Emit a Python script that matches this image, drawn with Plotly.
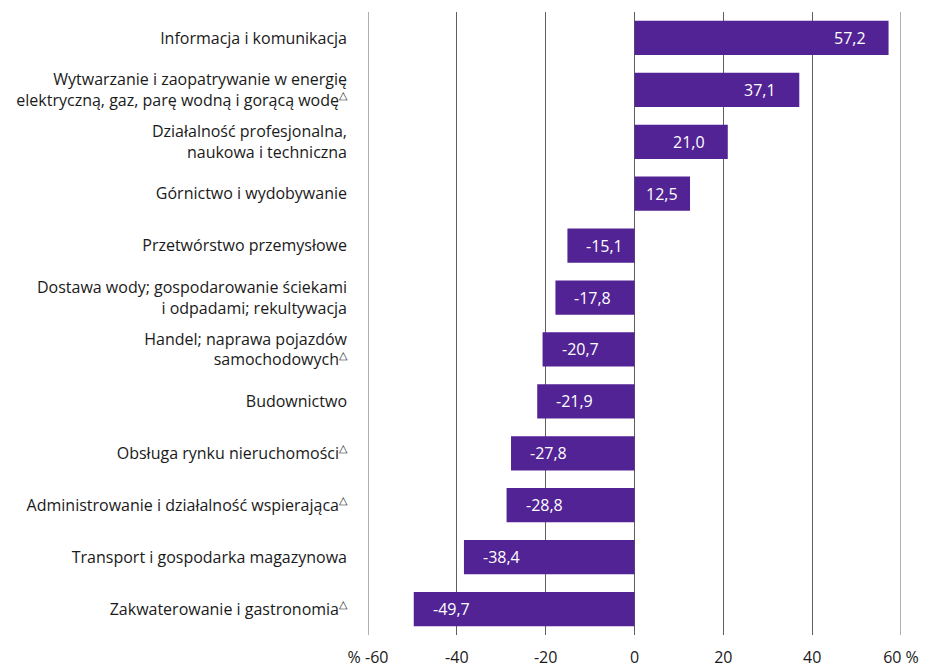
import plotly.graph_objects as go

categories = [
    "Informacja i komunikacja",
    "Wytwarzanie i zaopatrywanie w energię<br>elektryczną, gaz, parę wodną i gorącą wodę<sup>△</sup>",
    "Działalność profesjonalna,<br>naukowa i techniczna",
    "Górnictwo i wydobywanie",
    "Przetwórstwo przemysłowe",
    "Dostawa wody; gospodarowanie ściekami<br>i odpadami; rekultywacja",
    "Handel; naprawa pojazdów<br>samochodowych<sup>△</sup>",
    "Budownictwo",
    "Obsługa rynku nieruchomości<sup>△</sup>",
    "Administrowanie i działalność wspierająca<sup>△</sup>",
    "Transport i gospodarka magazynowa",
    "Zakwaterowanie i gastronomia<sup>△</sup>",
]
values = [57.2, 37.1, 21.0, 12.5, -15.1, -17.8, -20.7, -21.9, -27.8, -28.8, -38.4, -49.7]

tick_vals = [-60, -40, -20, 0, 20, 40, 60]
tick_text = ["% -60", "-40", "-20", "0", "20", "40", "60 %"]

BAR_COLOR = "#522394"
GRID_COLOR = "#5f5f5f"
FONT = "'Open Sans', 'Noto Sans', sans-serif"

fig = go.Figure()
fig.add_trace(go.Bar(
    x=values,
    y=categories,
    orientation="h",
    marker=dict(color=BAR_COLOR, line=dict(width=0)),
    hoverinfo="skip",
))

annotations = []
for cat, v in zip(categories, values):
    label = f"{v:.1f}".replace(".", ",")
    if abs(v) < 15:
        # short bar: centre the label inside it
        ann = dict(x=v / 2, xanchor="center", xshift=0)
    elif v > 0:
        ann = dict(x=v, xanchor="right", xshift=-21)
    else:
        ann = dict(x=v, xanchor="left", xshift=17)
    ann.update(
        y=cat, xref="x", yref="y",
        text=label, showarrow=False,
        font=dict(color="white", size=16, family=FONT),
    )
    annotations.append(ann)

# gridlines at the range edges (plotly skips them)
shapes = []
for tv in (tick_vals[0], tick_vals[-1]):
    shapes.append(dict(type="line", xref="x", yref="paper", x0=tv, x1=tv, y0=0, y1=1,
                       line=dict(color=GRID_COLOR, width=1), layer="below"))

# page body adds an 8px offset; the figure is sized to compensate
fig.update_layout(
    width=921, height=659,
    margin=dict(l=360, r=28, t=4, b=32),
    paper_bgcolor="white", plot_bgcolor="white",
    font=dict(family=FONT, size=16, color="#1a1a1a"),
    bargap=0.34,
    showlegend=False,
    annotations=annotations,
    shapes=shapes,
    xaxis=dict(
        range=[tick_vals[0], tick_vals[-1]],
        tickvals=tick_vals, ticktext=tick_text,
        showgrid=True, gridcolor=GRID_COLOR, gridwidth=1,
        zeroline=True, zerolinecolor=GRID_COLOR, zerolinewidth=1,
        showline=False, ticks="",
        tickfont=dict(size=16, color="#1a1a1a"),
        ticklabelstandoff=11,
        automargin=False,
        fixedrange=True,
    ),
    yaxis=dict(
        categoryorder="array", categoryarray=categories,
        autorange="reversed",
        showgrid=False, zeroline=False, showline=False, ticks="",
        ticklabelstandoff=20,
        tickfont=dict(size=16, color="#1a1a1a"),
        automargin=False,
        fixedrange=True,
    ),
)

fig.write_html("out.html")
